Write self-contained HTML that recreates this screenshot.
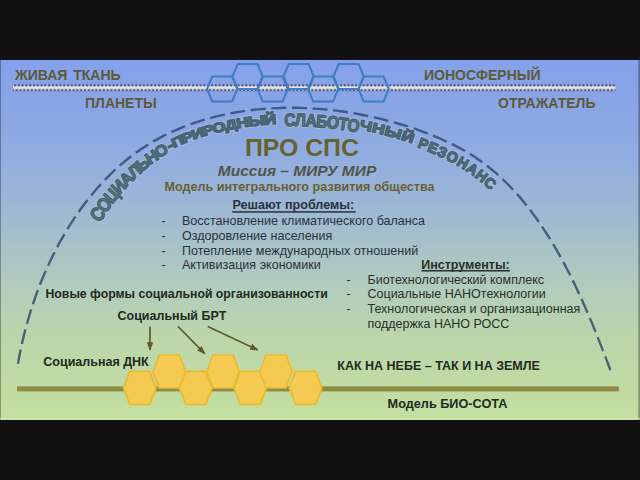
<!DOCTYPE html>
<html><head><meta charset="utf-8"><style>
html,body{margin:0;padding:0;background:#111;width:640px;height:480px;overflow:hidden}
</style></head><body>

<svg width="640" height="480" viewBox="0 0 640 480" style="position:absolute;left:0;top:0">
<defs>
<linearGradient id="bg" x1="0" y1="0" x2="0" y2="1">
<stop offset="0" stop-color="#85a1ea"/>
<stop offset="0.153" stop-color="#8aa6e4"/>
<stop offset="0.25" stop-color="#90ace2"/>
<stop offset="0.389" stop-color="#9ab6d6"/>
<stop offset="0.5" stop-color="#a6c0ca"/>
<stop offset="0.639" stop-color="#b2cdbb"/>
<stop offset="0.778" stop-color="#bcd6aa"/>
<stop offset="0.958" stop-color="#c1dda0"/>
<stop offset="1" stop-color="#c3dfa2"/>
</linearGradient>
<marker id="ah" viewBox="0 0 10 10" refX="9" refY="5" markerWidth="5" markerHeight="5" orient="auto-start-reverse">
<path d="M0,1.2 L10,5 L0,8.8 Z" fill="#5e5a2c"/>
</marker>
<linearGradient id="atg" gradientUnits="userSpaceOnUse" x1="0" y1="110" x2="0" y2="200">
<stop offset="0" stop-color="#4a6a58"/>
<stop offset="1" stop-color="#46687a"/>
</linearGradient>
<linearGradient id="dashg" gradientUnits="userSpaceOnUse" x1="0" y1="100" x2="0" y2="380">
<stop offset="0" stop-color="#3e5888"/>
<stop offset="1" stop-color="#4a6474"/>
</linearGradient>
<pattern id="dots" x="13" y="84.2" width="3.79" height="7.2" patternUnits="userSpaceOnUse">
<rect x="0" y="0" width="3.79" height="7.2" fill="#b6c2e6"/>
<rect x="0" y="2.1" width="3.79" height="2.8" fill="#e6e6da"/>
<rect x="0.9" y="0" width="2.2" height="2.1" fill="#46528a"/>
<rect x="2.6" y="4.9" width="1.19" height="2.2" fill="#46528a"/>
<rect x="0" y="4.9" width="1.0" height="2.2" fill="#46528a"/>
</pattern>
<g id="arct" font-family="'Liberation Sans', sans-serif" font-weight="bold" text-anchor="middle"><text transform="translate(102.79,218.13) rotate(-53.03) scale(0.855,1)" font-size="19.29">С</text>
<text transform="translate(109.13,208.89) rotate(-50.56) scale(0.875,1)" font-size="18.84">О</text>
<text transform="translate(116.01,199.77) rotate(-47.89) scale(0.897,1)" font-size="18.38">Ц</text>
<text transform="translate(123.01,191.34) rotate(-45.17) scale(0.919,1)" font-size="17.94">И</text>
<text transform="translate(130.42,183.26) rotate(-42.28) scale(0.942,1)" font-size="17.50">А</text>
<text transform="translate(138.12,175.67) rotate(-39.28) scale(0.966,1)" font-size="17.06">Л</text>
<text transform="translate(146.12,168.60) rotate(-36.14) scale(0.991,1)" font-size="16.63">Ь</text>
<text transform="translate(154.63,161.90) rotate(-32.83) scale(1.018,1)" font-size="16.19">Н</text>
<text transform="translate(163.93,155.42) rotate(-29.44) scale(1.047,1)" font-size="15.74">О</text>
<text transform="translate(171.96,149.57) rotate(-26.63) scale(1.213,1)" font-size="14.00">-</text>
<text transform="translate(179.28,145.56) rotate(-24.35) scale(1.309,1)" font-size="13.05">П</text>
<text transform="translate(189.02,141.49) rotate(-21.58) scale(1.299,1)" font-size="13.16">Р</text>
<text transform="translate(198.97,137.87) rotate(-18.94) scale(1.289,1)" font-size="13.26">И</text>
<text transform="translate(209.10,134.70) rotate(-16.42) scale(1.280,1)" font-size="13.36">Р</text>
<text transform="translate(219.85,131.84) rotate(-13.90) scale(1.270,1)" font-size="13.46">О</text>
<text transform="translate(231.60,129.28) rotate(-11.31) scale(1.259,1)" font-size="13.58">Д</text>
<text transform="translate(243.03,127.29) rotate(-8.94) scale(1.249,1)" font-size="13.69">Н</text>
<text transform="translate(256.71,125.54) rotate(-6.25) scale(1.237,1)" font-size="13.82">Ы</text>
<text transform="translate(270.46,124.41) rotate(-3.68) scale(1.226,1)" font-size="13.95">Й</text>
<text transform="translate(289.80,126.08) rotate(-0.25) scale(0.876,1)" font-size="17.80">С</text>
<text transform="translate(300.15,126.19) rotate(1.53) scale(0.876,1)" font-size="17.80">Л</text>
<text transform="translate(310.77,126.64) rotate(3.32) scale(0.876,1)" font-size="17.80">А</text>
<text transform="translate(321.32,127.42) rotate(5.07) scale(0.876,1)" font-size="17.80">Б</text>
<text transform="translate(332.17,128.55) rotate(6.86) scale(0.876,1)" font-size="17.80">О</text>
<text transform="translate(342.38,129.93) rotate(8.52) scale(0.876,1)" font-size="17.80">Т</text>
<text transform="translate(352.56,131.61) rotate(10.15) scale(0.876,1)" font-size="17.80">О</text>
<text transform="translate(364.98,130.62) rotate(11.99) scale(1.254,1)" font-size="13.94">Ч</text>
<text transform="translate(377.32,133.33) rotate(13.86) scale(1.265,1)" font-size="13.83">Н</text>
<text transform="translate(391.95,137.10) rotate(16.00) scale(1.277,1)" font-size="13.69">Ы</text>
<text transform="translate(406.43,141.39) rotate(18.10) scale(1.290,1)" font-size="13.56">Й</text>
<text transform="translate(421.52,148.78) rotate(20.88) scale(0.972,1)" font-size="14.80">Р</text>
<text transform="translate(430.86,152.52) rotate(22.86) scale(0.972,1)" font-size="14.80">Е</text>
<text transform="translate(440.16,156.65) rotate(25.12) scale(0.972,1)" font-size="14.80">З</text>
<text transform="translate(449.97,161.54) rotate(27.86) scale(0.972,1)" font-size="14.80">О</text>
<text transform="translate(460.07,167.24) rotate(31.14) scale(0.972,1)" font-size="14.80">Н</text>
<text transform="translate(469.45,173.31) rotate(34.69) scale(0.972,1)" font-size="14.80">А</text>
<text transform="translate(478.39,179.93) rotate(38.34) scale(0.972,1)" font-size="14.80">Н</text>
<text transform="translate(486.75,186.96) rotate(41.67) scale(0.972,1)" font-size="14.80">С</text></g>
</defs>
<rect x="0" y="0" width="640" height="480" fill="#111111"/>
<rect x="0" y="60" width="640" height="360" fill="url(#bg)"/>
<rect x="0" y="60" width="1" height="360" fill="#000" opacity="0.3"/>
<rect x="638.3" y="60" width="1.7" height="360" fill="#000" opacity="0.32"/>
<rect x="0" y="59" width="640" height="1" fill="#101430" opacity="0.8"/>
<rect x="0" y="417.6" width="640" height="1.8" fill="#d0e6b4" opacity="0.6"/>
<!-- dotted line -->
<rect x="13" y="84.2" width="602.5" height="7.2" fill="url(#dots)"/>
<!-- blue hexes -->
<g fill="none" stroke="#3f7cc4" stroke-width="2">
<path d="M207.00,89.00 L212.20,76.50 L232.10,76.50 L237.30,89.00 L232.10,101.50 L212.20,101.50 Z"/><path d="M257.50,89.00 L262.70,76.50 L282.60,76.50 L287.80,89.00 L282.60,101.50 L262.70,101.50 Z"/><path d="M308.00,89.00 L313.20,76.50 L333.10,76.50 L338.30,89.00 L333.10,101.50 L313.20,101.50 Z"/><path d="M358.50,89.00 L363.70,76.50 L383.60,76.50 L388.80,89.00 L383.60,101.50 L363.70,101.50 Z"/><path d="M232.50,76.50 L237.70,64.00 L257.60,64.00 L262.80,76.50 L257.60,89.00 L237.70,89.00 Z"/><path d="M283.50,76.50 L288.70,64.00 L308.60,64.00 L313.80,76.50 L308.60,89.00 L288.70,89.00 Z"/><path d="M333.50,76.50 L338.70,64.00 L358.60,64.00 L363.80,76.50 L358.60,89.00 L338.70,89.00 Z"/>
</g>
<!-- labels -->
<g font-family="'Liberation Sans', sans-serif" font-weight="bold" font-size="14" fill="#5c5a3a">
<text x="15" y="79.6" word-spacing="2">ЖИВАЯ ТКАНЬ</text>
<text x="85" y="107.6">ПЛАНЕТЫ</text>
<text x="424" y="79.6">ИОНОСФЕРНЫЙ</text>
<text x="498" y="107.6">ОТРАЖАТЕЛЬ</text>
</g>
<!-- dashed arc -->
<path d="M18.0,363.9 L18.7,359.8 L19.4,355.8 L20.2,351.8 L21.1,347.7 L21.9,343.6 L22.9,339.5 L23.9,335.4 L24.9,331.3 L26.0,327.2 L27.1,323.1 L28.3,319.0 L29.5,314.8 L30.8,310.7 L32.1,306.6 L33.5,302.5 L34.9,298.4 L36.3,294.3 L37.9,290.2 L39.4,286.1 L41.0,282.0 L42.7,277.9 L44.4,273.9 L46.2,269.9 L48.0,265.9 L49.8,261.9 L51.7,257.9 L53.7,253.9 L55.7,250.0 L57.7,246.1 L59.8,242.2 L62.0,238.4 L64.2,234.6 L66.4,230.8 L68.7,227.0 L71.0,223.3 L73.4,219.6 L75.9,216.0 L78.3,212.4 L80.9,208.8 L83.5,205.3 L86.1,201.8 L88.8,198.4 L91.5,195.0 L94.3,191.7 L97.1,188.4 L100.0,185.2 L102.9,182.0 L105.8,178.9 L108.8,175.9 L111.9,172.9 L115.0,169.9 L118.2,167.0 L121.4,164.2 L124.6,161.5 L127.9,158.8 L131.3,156.2 L134.7,153.6 L138.1,151.2 L141.6,148.8 L145.2,146.4 L148.7,144.2 L152.4,142.0 L156.0,139.9 L159.8,137.9 L163.5,135.9 L167.3,134.0 L171.2,132.2 L175.0,130.5 L178.9,128.8 L182.9,127.2 L186.9,125.6 L190.9,124.2 L194.9,122.7 L199.0,121.4 L203.1,120.1 L207.2,118.9 L211.3,117.8 L215.5,116.7 L219.7,115.7 L223.9,114.8 L228.1,113.9 L232.4,113.0 L236.6,112.3 L240.9,111.6 L245.2,110.9 L249.5,110.4 L253.9,109.8 L258.2,109.4 L262.5,109.0 L266.9,108.6 L271.2,108.4 L275.6,108.1 L279.9,108.0 L284.3,107.8 L288.6,107.8 L293.0,107.8 L297.4,107.8 L301.7,107.9 L306.1,108.1 L310.4,108.3 L314.7,108.6 L319.1,108.9 L323.4,109.2 L327.7,109.6 L332.0,110.1 L336.3,110.6 L340.5,111.2 L344.8,111.8 L349.0,112.4 L353.3,113.2 L357.5,113.9 L361.7,114.7 L366.0,115.6 L370.2,116.4 L374.4,117.4 L378.6,118.4 L382.7,119.4 L386.9,120.5 L391.1,121.6 L395.2,122.7 L399.4,124.0 L403.5,125.2 L407.6,126.5 L411.7,127.8 L415.9,129.2 L419.9,130.6 L424.0,132.1 L428.1,133.6 L432.1,135.2 L436.1,136.8 L440.1,138.5 L444.0,140.3 L447.9,142.1 L451.8,143.9 L455.6,145.9 L459.4,147.9 L463.2,150.0 L466.9,152.1 L470.6,154.3 L474.2,156.6 L477.7,159.0 L481.2,161.4 L484.6,163.9 L488.0,166.5 L491.3,169.2 L494.6,171.9 L497.8,174.7 L501.0,177.6 L504.1,180.5 L507.1,183.5 L510.1,186.6 L513.1,189.7 L516.0,192.9 L518.9,196.1 L521.7,199.4 L524.4,202.7 L527.1,206.1 L529.8,209.5 L532.4,213.0 L535.0,216.5 L537.5,220.0 L540.0,223.6 L542.4,227.2 L544.8,230.8 L547.2,234.5 L549.5,238.2 L551.8,241.9 L554.0,245.6 L556.2,249.4 L558.4,253.2 L560.5,257.0 L562.6,260.8 L564.7,264.6 L566.7,268.5 L568.7,272.3 L570.7,276.2 L572.6,280.1 L574.5,284.0 L576.4,287.9 L578.2,291.9 L580.1,295.8 L581.9,299.8 L583.6,303.7 L585.4,307.7 L587.1,311.7 L588.8,315.6 L590.5,319.6 L592.2,323.6 L593.8,327.6 L595.4,331.6 L597.0,335.6 L598.6,339.6 L600.2,343.6 L601.8,347.6 L603.3,351.6 L604.9,355.6 L606.4,359.6 L607.9,363.5 L609.4,367.5 L610.4,370.2" fill="none" stroke="url(#dashg)" stroke-width="2.4" stroke-dasharray="15 5.65" stroke-dashoffset="0.26"/>
<!-- arc text -->
<use href="#arct" fill="none" stroke="#b4c6dc" stroke-width="3.2" stroke-linejoin="round" opacity="0.6"/>
<use href="#arct" fill="#5a7c72" stroke="#476276" stroke-width="1.4" stroke-linejoin="round"/>
<!-- title -->
<text x="245" y="155.8" font-family="'Liberation Sans', sans-serif" font-size="24.8" font-weight="bold" fill="#66622e">ПРО СПС</text>
<text x="217.8" y="175.6" transform="matrix(1.07,0,0,1,-15.246,0)" font-family="'Liberation Sans', sans-serif" font-size="14.5" font-weight="bold" font-style="italic" fill="#525648">Миссия – МИРУ МИР</text>
<text x="164.5" y="190.6" font-family="'Liberation Sans', sans-serif" font-size="12.6" font-weight="bold" fill="#686030">Модель интегрального развития общества</text>
<!-- problems -->
<g font-family="'Liberation Sans', sans-serif" font-size="12.56" fill="#2a3240">
<text x="232.5" y="208.7" font-weight="bold">Решают проблемы:</text><rect x="232.3" y="211.2" width="123.3" height="1.5"/>
<text x="161.5" y="225">-</text><text x="182" y="225">Восстановление климатического баланса</text>
<text x="161.5" y="239.8">-</text><text x="182" y="239.8">Оздоровление населения</text>
<text x="161.5" y="254.5">-</text><text x="182" y="254.5">Потепление международных отношений</text>
<text x="161.5" y="269">-</text><text x="182" y="269">Активизация экономики</text>
</g>
<g font-family="'Liberation Sans', sans-serif" font-size="12.5" fill="#283028">
<text x="421.2" y="268.6" font-weight="bold">Инструменты:</text><rect x="421.5" y="270" width="88.5" height="1.5"/>
<text x="346.5" y="283.5">-</text><text x="367.5" y="283.5">Биотехнологический комплекс</text>
<text x="346.5" y="298.3">-</text><text x="367.5" y="298.3">Социальные НАНОтехнологии</text>
<text x="346.5" y="313.1">-</text><text x="367.5" y="313.1">Технологическая и организационная</text>
<text x="367.5" y="327.6">поддержка НАНО РОСС</text>
</g>
<g font-family="'Liberation Sans', sans-serif" font-size="12.5" font-weight="bold" fill="#222a22">
<text x="45.5" y="298.3" font-size="12.28">Новые формы социальной организованности</text>
<text x="117.5" y="319.7">Социальный БРТ</text>
<text x="43.3" y="366">Социальная ДНК</text>
<text x="337.3" y="369.5">КАК НА НЕБЕ – ТАК И НА ЗЕМЛЕ</text>
<text x="387.6" y="407.8" font-size="12.7">Модель БИО-СОТА</text>
</g>
<!-- olive line -->
<rect x="17" y="386.4" width="601.8" height="5" fill="#8e8b46"/>
<!-- yellow hexes -->
<g fill="#f4ca52" stroke="#ebbb30" stroke-width="1.7">
<path d="M123.50,387.90 L129.70,371.40 L149.80,371.40 L156.00,387.90 L149.80,404.40 L129.70,404.40 Z"/><path d="M179.50,387.90 L185.70,371.40 L205.80,371.40 L212.00,387.90 L205.80,404.40 L185.70,404.40 Z"/><path d="M234.00,387.90 L240.20,371.40 L260.30,371.40 L266.50,387.90 L260.30,404.40 L240.20,404.40 Z"/><path d="M289.30,387.90 L295.50,371.40 L315.60,371.40 L321.80,387.90 L315.60,404.40 L295.50,404.40 Z"/><path d="M153.00,371.50 L159.20,355.00 L179.30,355.00 L185.50,371.50 L179.30,388.00 L159.20,388.00 Z"/><path d="M206.70,371.50 L212.90,355.00 L233.00,355.00 L239.20,371.50 L233.00,388.00 L212.90,388.00 Z"/><path d="M259.70,371.50 L265.90,355.00 L286.00,355.00 L292.20,371.50 L286.00,388.00 L265.90,388.00 Z"/>
</g>
<!-- arrows -->
<g stroke="#5e5a2c" stroke-width="1.7" fill="none" marker-end="url(#ah)">
<line x1="150" y1="326.5" x2="150" y2="350"/>
<line x1="178" y1="326.5" x2="204.7" y2="353.7"/>
<line x1="207.8" y1="326.5" x2="257.8" y2="350"/>
</g>
</svg>

</body></html>
